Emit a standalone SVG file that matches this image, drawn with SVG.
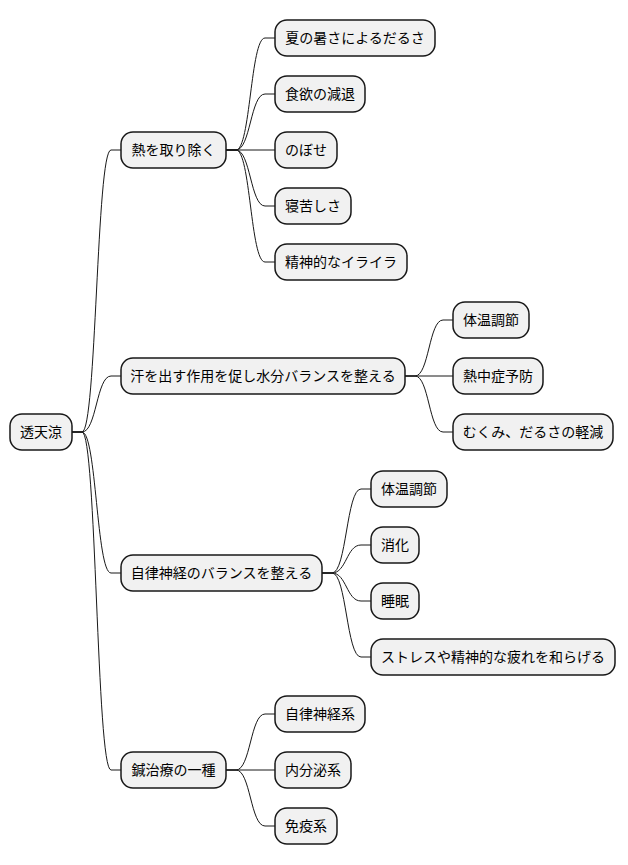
<svg xmlns="http://www.w3.org/2000/svg" width="628" height="865" viewBox="0 0 628 865">
<style>
.n rect{fill:#F1F1F1;stroke:#181818;stroke-width:1.5}
.n text{font-family:"Noto Sans CJK JP","Noto Sans",sans-serif;font-size:14px;fill:#000;text-anchor:middle}
.c path{fill:none;stroke:#181818;stroke-width:1}
</style>
<rect width="628" height="865" fill="#fff"/>
<g class="c">
<path d="M72,432 H82 C96.5,432 96.5,150 111,150 H121"/>
<path d="M72,432 H82 C96.5,432 96.5,376 111,376 H121"/>
<path d="M72,432 H82 C96.5,432 96.5,573 111,573 H121"/>
<path d="M72,432 H82 C96.5,432 96.5,770 111,770 H121"/>
<path d="M226,150 H236 C250.5,150 250.5,38 265,38 H275"/>
<path d="M226,150 H236 C250.5,150 250.5,94 265,94 H275"/>
<path d="M226,150 H275"/>
<path d="M226,150 H236 C250.5,150 250.5,206 265,206 H275"/>
<path d="M226,150 H236 C250.5,150 250.5,262 265,262 H275"/>
<path d="M405,376 H415 C429,376 429,320 443,320 H453"/>
<path d="M405,376 H453"/>
<path d="M405,376 H415 C429,376 429,432 443,432 H453"/>
<path d="M322,573 H332 C346.5,573 346.5,489 361,489 H371"/>
<path d="M322,573 H332 C346.5,573 346.5,545 361,545 H371"/>
<path d="M322,573 H332 C346.5,573 346.5,601 361,601 H371"/>
<path d="M322,573 H332 C346.5,573 346.5,657 361,657 H371"/>
<path d="M226,770 H236 C250.5,770 250.5,714 265,714 H275"/>
<path d="M226,770 H275"/>
<path d="M226,770 H236 C250.5,770 250.5,826 265,826 H275"/>
</g>
<g id="root" class="n"><rect x="10" y="414" width="62" height="36" rx="12"/><text x="41" y="437">透天涼</text></g>
<g id="n1" class="n"><rect x="121" y="132" width="105" height="36" rx="12"/><text x="173.5" y="155">熱を取り除く</text></g>
<g id="n2" class="n"><rect x="121" y="358" width="284" height="36" rx="12"/><text x="263" y="381">汗を出す作用を促し水分バランスを整える</text></g>
<g id="n3" class="n"><rect x="121" y="555" width="201" height="36" rx="12"/><text x="221.5" y="578">自律神経のバランスを整える</text></g>
<g id="n4" class="n"><rect x="121" y="752" width="105" height="36" rx="12"/><text x="173.5" y="775">鍼治療の一種</text></g>
<g id="n1a" class="n"><rect x="275" y="20" width="160" height="36" rx="12"/><text x="355" y="43">夏の暑さによるだるさ</text></g>
<g id="n1b" class="n"><rect x="275" y="76" width="90" height="36" rx="12"/><text x="320" y="99">食欲の減退</text></g>
<g id="n1c" class="n"><rect x="275" y="132" width="62" height="36" rx="12"/><text x="306" y="155">のぼせ</text></g>
<g id="n1d" class="n"><rect x="275" y="188" width="76" height="36" rx="12"/><text x="313" y="211">寝苦しさ</text></g>
<g id="n1e" class="n"><rect x="275" y="244" width="132" height="36" rx="12"/><text x="341" y="267">精神的なイライラ</text></g>
<g id="n2a" class="n"><rect x="453" y="302" width="76" height="36" rx="12"/><text x="491" y="325">体温調節</text></g>
<g id="n2b" class="n"><rect x="453" y="358" width="90" height="36" rx="12"/><text x="498" y="381">熱中症予防</text></g>
<g id="n2c" class="n"><rect x="453" y="414" width="160" height="36" rx="12"/><text x="533" y="437">むくみ、だるさの軽減</text></g>
<g id="n3a" class="n"><rect x="371" y="471" width="76" height="36" rx="12"/><text x="409" y="494">体温調節</text></g>
<g id="n3b" class="n"><rect x="371" y="527" width="48" height="36" rx="12"/><text x="395" y="550">消化</text></g>
<g id="n3c" class="n"><rect x="371" y="583" width="48" height="36" rx="12"/><text x="395" y="606">睡眠</text></g>
<g id="n3d" class="n"><rect x="371" y="639" width="244" height="36" rx="12"/><text x="493" y="662">ストレスや精神的な疲れを和らげる</text></g>
<g id="n4a" class="n"><rect x="275" y="696" width="90" height="36" rx="12"/><text x="320" y="719">自律神経系</text></g>
<g id="n4b" class="n"><rect x="275" y="752" width="76" height="36" rx="12"/><text x="313" y="775">内分泌系</text></g>
<g id="n4c" class="n"><rect x="275" y="808" width="62" height="36" rx="12"/><text x="306" y="831">免疫系</text></g>
</svg>
